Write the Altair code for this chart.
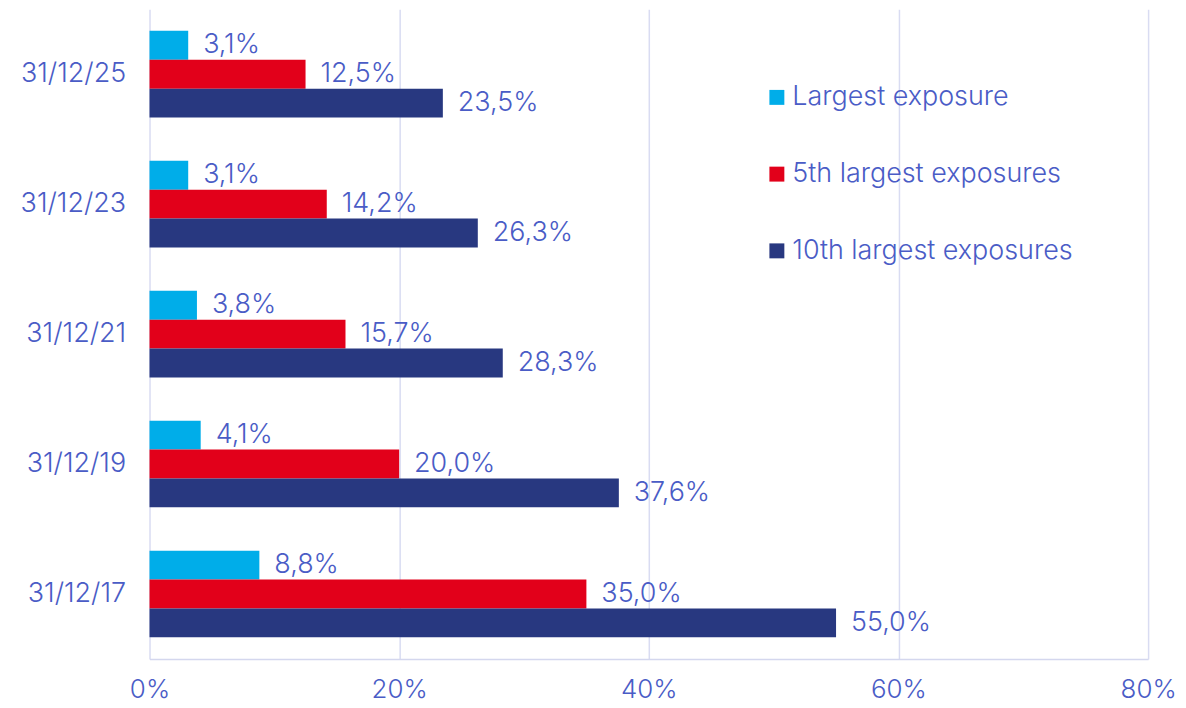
import altair as alt
import pandas as pd

dates = ["31/12/25", "31/12/23", "31/12/21", "31/12/19", "31/12/17"]
series = ["Largest exposure", "5th largest exposures", "10th largest exposures"]
largest = [3.1, 3.1, 3.8, 4.1, 8.8]
fifth = [12.5, 14.2, 15.7, 20.0, 35.0]
tenth = [23.5, 26.3, 28.3, 37.6, 55.0]
colors = ["#00ade9", "#e2001a", "#283880"]

rows = []
for s, vals in zip(series, [largest, fifth, tenth]):
    for d, v in zip(dates, vals):
        rows.append({"date": d, "series": s, "value": v})
df = pd.DataFrame(rows)

txt = "#4a5cc6"
font = "Inter"
fw = 300
fs = 27

y = alt.Y("date:N", sort=dates, title=None,
          scale=alt.Scale(paddingInner=0.333, paddingOuter=0.1667),
          axis=alt.Axis(labelFontSize=fs, labelColor=txt, labelFont=font, labelFontWeight=fw,
                        labelPadding=24, ticks=False, domain=False, grid=False))
yoff = alt.YOffset("series:N", sort=series, scale=alt.Scale(paddingInner=0, paddingOuter=0))
x = alt.X("value:Q", title=None,
          scale=alt.Scale(domain=[0, 80], nice=False),
          axis=alt.Axis(values=[0, 20, 40, 60, 80], labelExpr="datum.value + '%'",
                        labelFontSize=26, labelColor=txt, labelFont=font, labelFontWeight=fw,
                        labelFlush=False, labelPadding=18, ticks=False, domainColor="#d4d7ee",
                        gridColor="#d9dcf2", gridWidth=1.5, domainWidth=1.5))

base = alt.Chart(df)
bars = base.mark_bar().encode(
    x=x, y=y, yOffset=yoff,
    color=alt.Color("series:N", sort=series,
                    scale=alt.Scale(domain=series, range=colors),
                    legend=alt.Legend(title=None, orient="none", legendX=616, legendY=75,
                                      symbolType="square", symbolSize=225,
                                      symbolStrokeWidth=0, labelLimit=0,
                                      labelFontSize=fs, labelColor=txt, labelFont=font,
                                      labelFontWeight=fw,
                                      rowPadding=49, labelOffset=2)),
)
labels = base.mark_text(align="left", baseline="middle", dx=15, fontSize=fs,
                        color=txt, font=font, fontWeight=fw).transform_calculate(
    lbl="replace(format(datum.value, '.1f'), '.', ',') + '%'"
).encode(x="value:Q", y=alt.Y("date:N", sort=dates), yOffset=alt.YOffset("series:N", sort=series),
         text="lbl:N")

chart = (bars + labels).properties(
    width=1002, height=652,
    autosize=alt.AutoSizeParams(type="none"),
    padding={"left": 142, "top": 0, "right": 30, "bottom": 46},
).configure_view(stroke=None)

chart.save("out.html", embed_options={"renderer": "svg", "actions": False})
